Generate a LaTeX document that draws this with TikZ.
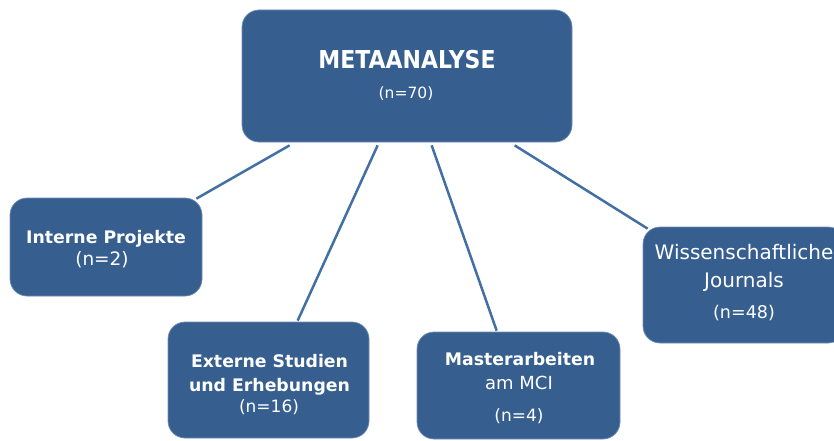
\documentclass[tikz,border=0pt]{standalone}
\usepackage{fontspec}
\setmainfont{DejaVu Sans}
\definecolor{boxblue}{HTML}{365F90}
\definecolor{boxedge}{HTML}{6F8DB3}
\definecolor{lineblue}{HTML}{4270A3}
\begin{document}
\begin{tikzpicture}[x=1pt,y=-1pt,
  box/.style={draw=boxedge, line width=0.7pt, fill=boxblue, rounded corners=17pt, inner sep=0pt, anchor=center},
  conn/.style={draw=lineblue, line width=2.5pt},
  txt/.style={text=white, anchor=base, inner sep=0pt},
  bold/.style={txt, font=\fontsize{17.3}{20}\selectfont\bfseries},
  reg/.style={txt, font=\fontsize{17}{20}\selectfont},
  ]
\clip (0,0) rectangle (834,441);
\fill[white] (0,0) rectangle (834,441);
% boxes
\node[box, minimum width=330pt, minimum height=132pt] (meta) at (407,76) {};
\node[box, minimum width=192pt, minimum height=98pt] (intern) at (106,247) {};
\node[box, minimum width=201pt, minimum height=116pt] (extern) at (268.5,380) {};
\node[box, minimum width=203pt, minimum height=107pt] (master) at (518.5,385.5) {};
\node[box, minimum width=202pt, minimum height=116pt] (wiss) at (744,285) {};
% connectors
\draw[conn] ([shift={(48,3)}]meta.south west) -- ([shift={(-6,1)}]intern.north east);
\draw[conn] ([shift={(136,3)}]meta.south west) -- ([shift={(130,-1)}]extern.north west);
\draw[conn] ([shift={(190,3)}]meta.south west) -- ([shift={(80,-1)}]master.north west);
\draw[conn] ([shift={(273,3)}]meta.south west) -- ([shift={(5,2)}]wiss.north west);
% texts
\node[txt, font=\fontsize{22}{24}\selectfont\bfseries] (t1) at (407,69) {\scalebox{1}[1.12]{METAANALYSE}};
\node[txt, font=\fontsize{15.5}{18}\selectfont] (t2) at (406,99) {(n=70)};
\node[bold] (t3) at (106,243) {Interne Projekte};
\node[txt, font=\fontsize{18.5}{20}\selectfont] (t4) at (102,265) {(n=2)};
\node[bold] (t5) at (269.5,367) {Externe Studien};
\node[bold] (t6) at (269.5,391) {und Erhebungen};
\node[reg] (t7) at (269,412) {(n=16)};
\node[bold] (t8) at (520,365) {Masterarbeiten};
\node[txt, font=\fontsize{18}{20}\selectfont] (t9) at (519,389) {am MCI};
\node[reg] (t10) at (519,421) {(n=4)};
\node[txt, font=\fontsize{20}{24}\selectfont] (t11) at (744,259) {Wissenschaftliche};
\node[txt, font=\fontsize{20}{24}\selectfont] (t12) at (744,287) {Journals};
\node[txt, font=\fontsize{17.5}{20}\selectfont] (t13) at (744,318) {(n=48)};
\end{tikzpicture}
\end{document}
